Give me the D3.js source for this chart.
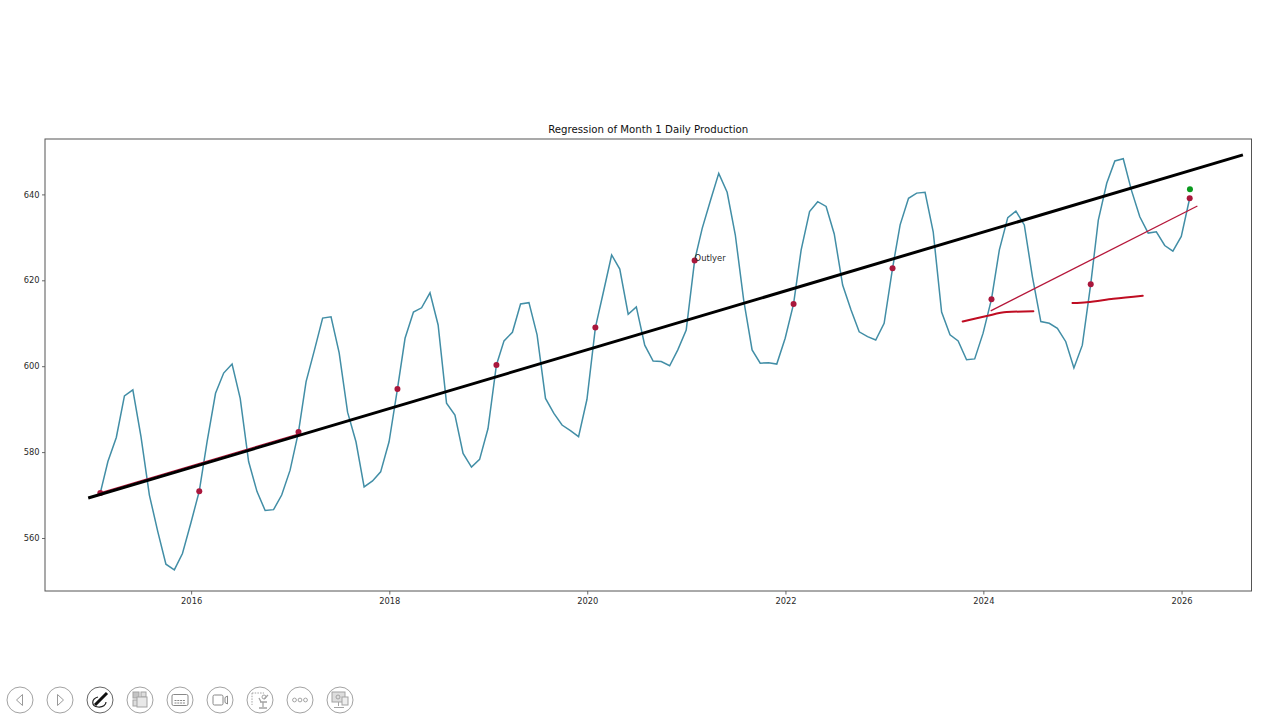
<!DOCTYPE html>
<html>
<head>
<meta charset="utf-8">
<script src="https://cdnjs.cloudflare.com/ajax/libs/d3/7.9.0/d3.min.js"></script>
<style>
  html, body { margin: 0; padding: 0; background: #fff; overflow: hidden; }
  svg { display: block; font-family: "DejaVu Sans", sans-serif; }
</style>
</head>
<body>
<svg id="chart" width="1280" height="720"></svg>
<script>
// Month-end daily production, one row per year, January 2015 to January 2026
const production2015 = [570.5, 577.8, 583.4, 593.1, 594.5, 583.6, 570.0, 561.5, 553.9, 552.6, 556.4, 563.5];
const production2016 = [570.9, 582.5, 593.7, 598.4, 600.5, 592.5, 577.8, 570.8, 566.4, 566.6, 570.0, 575.8];
const production2017 = [584.7, 596.4, 603.8, 611.2, 611.5, 603.1, 589.3, 582.4, 571.9, 573.3, 575.4, 582.4];
const production2018 = [594.7, 606.5, 612.6, 613.6, 617.1, 609.6, 591.4, 588.6, 579.7, 576.5, 578.3, 585.5];
const production2019 = [600.3, 605.9, 607.9, 614.5, 614.8, 607.3, 592.5, 589.0, 586.3, 585.0, 583.6, 592.3];
const production2020 = [609.0, 617.1, 625.9, 622.6, 612.1, 613.8, 604.9, 601.2, 601.1, 600.1, 603.8, 608.4];
const production2021 = [624.6, 632.1, 638.7, 644.9, 640.5, 630.6, 615.4, 603.8, 600.7, 600.8, 600.5, 606.5];
const production2022 = [614.5, 627.1, 636.0, 638.3, 637.2, 630.8, 618.9, 613.1, 608.0, 606.9, 606.1, 610.0];
const production2023 = [622.8, 632.9, 639.1, 640.3, 640.5, 631.3, 612.6, 607.3, 605.9, 601.5, 601.7, 607.7];
const production2024 = [615.6, 627.1, 634.6, 636.1, 632.9, 620.8, 610.4, 610.0, 608.8, 605.7, 599.6, 604.9];
const production2025 = [619.1, 634.0, 642.6, 647.8, 648.3, 641.0, 634.8, 631.0, 631.3, 628.1, 626.8, 630.2];
const production2026 = [639.1];

const firstYear = 2015;
const xTickYears = [2016, 2018, 2020, 2022, 2024, 2026];
const yTickValues = [560, 580, 600, 620, 640];

// Fitted trend and later additions, as [decimal year, production]
const regressionLine = [[2014.96, 569.3], [2026.62, 649.2]];
const earlyTrendInk = [[2015.08, 570.5], [2017.08, 584.2]];
const recentTrendInk = [[2024.074, 612.9], [2026.16, 637.3]];
const inkStrokeA = [[2023.791, 610.4], [2024.033, 611.7], [2024.235, 612.6], [2024.504, 612.8]];
const inkStrokeB = [[2024.898, 614.7], [2025.043, 614.9], [2025.311, 615.7], [2025.608, 616.4]];
const forecastPoint = [2026.085, 641.2];
const outlierYear = 2021;

const titleText = "Regression of Month 1 Daily Production";
const outlierText = "Outlyer";

const svg = d3.select("#chart");
const plot = { left: 45, right: 1251.5, top: 139, bottom: 591 };

const x = d3.scaleUtc()
  .domain([new Date(Date.UTC(2014, 6, 11)), new Date(Date.UTC(2026, 8, 16))])
  .range([plot.left, plot.right]);
const y = d3.scaleLinear().domain([547.66, 652.9]).range([plot.bottom, plot.top]);

const yearRows = [production2015, production2016, production2017, production2018,
  production2019, production2020, production2021, production2022, production2023,
  production2024, production2025, production2026];

// Each reading is dated at the last day of its month
const monthly = yearRows.flatMap((row, r) => row.map((value, m) => ({
  date: new Date(Date.UTC(firstYear + r, m + 1, 0)),
  month: m,
  year: firstYear + r,
  value
})));

const fromDecimalYear = t => {
  const whole = Math.floor(t);
  const start = Date.UTC(whole, 0, 1), end = Date.UTC(whole + 1, 0, 1);
  return new Date(start + (t - whole) * (end - start));
};
const inkLine = d3.line().x(d => x(fromDecimalYear(d[0]))).y(d => y(d[1]));
const inkCurve = d3.line().x(d => x(fromDecimalYear(d[0]))).y(d => y(d[1])).curve(d3.curveMonotoneX);

// Axes
const xAxis = d3.axisBottom(x)
  .tickValues(xTickYears.map(year => new Date(Date.UTC(year, 0, 1))))
  .tickFormat(d3.utcFormat("%Y")).tickSizeOuter(0).tickSize(3.5).tickPadding(3.5);
const yAxis = d3.axisLeft(y)
  .tickValues(yTickValues).tickFormat(d3.format("d")).tickSizeOuter(0).tickSize(3).tickPadding(2.5);

const styleAxis = g => {
  g.select(".domain").remove();
  g.selectAll("line").attr("stroke", "#444").attr("stroke-width", 0.8);
  g.selectAll("text").attr("fill", "#2a2a2a").attr("font-size", 8.3)
    .attr("font-family", '"DejaVu Sans", sans-serif');
};
svg.append("g").attr("transform", `translate(0,${plot.bottom})`).call(xAxis).call(styleAxis);
svg.append("g").attr("transform", `translate(${plot.left},0)`).call(yAxis).call(styleAxis);

// Monthly series
svg.append("path").datum(monthly)
  .attr("fill", "none").attr("stroke", "#428ea6").attr("stroke-width", 1.5)
  .attr("stroke-linejoin", "miter")
  .attr("d", d3.line().x(d => x(d.date)).y(d => y(d.value)));

// Thin pen line beneath the regression
svg.append("path").datum(earlyTrendInk)
  .attr("fill", "none").attr("stroke", "#b5173a").attr("stroke-width", 1.2)
  .attr("d", inkLine);

// January readings
const januaries = monthly.filter(d => d.month === 0);
svg.append("g").selectAll("circle").data(januaries).join("circle")
  .attr("cx", d => x(d.date)).attr("cy", d => y(d.value)).attr("r", 3)
  .attr("fill", "#a9173c");

// Regression line
svg.append("path").datum(regressionLine)
  .attr("fill", "none").attr("stroke", "#000").attr("stroke-width", 3)
  .attr("d", inkLine);

// Pen marks over the last two years
svg.append("path").datum(recentTrendInk)
  .attr("fill", "none").attr("stroke", "#b5173a").attr("stroke-width", 1.3)
  .attr("d", inkLine);
[inkStrokeA, inkStrokeB].forEach(stroke => {
  svg.append("path").datum(stroke)
    .attr("fill", "none").attr("stroke", "#bf0d22").attr("stroke-width", 2)
    .attr("stroke-linecap", "round").attr("d", inkCurve);
});

// Projected value for January 2026
svg.append("circle")
  .attr("cx", x(fromDecimalYear(forecastPoint[0]))).attr("cy", y(forecastPoint[1]))
  .attr("r", 3).attr("fill", "#0a9a1e");

// Outlier note sits on the January reading it names
const outlier = januaries.find(d => d.year === outlierYear);
svg.append("text")
  .attr("x", x(outlier.date)).attr("y", y(outlier.value) + 0.4)
  .attr("font-size", 8.4).attr("fill", "#2a2a2a").text(outlierText);

// Frame and title
svg.append("rect")
  .attr("x", plot.left).attr("y", plot.top)
  .attr("width", plot.right - plot.left).attr("height", plot.bottom - plot.top)
  .attr("fill", "none").attr("stroke", "#555").attr("stroke-width", 1);
svg.append("text")
  .attr("x", (plot.left + plot.right) / 2).attr("y", 133)
  .attr("text-anchor", "middle").attr("font-size", 10.2).attr("fill", "#111")
  .text(titleText);

// Slide show controls along the bottom edge
const controlCentres = [20, 60, 100, 140, 180, 220, 260, 300, 340];
const controlY = 700;
const controls = svg.append("g").attr("fill", "none").attr("stroke", "#a3a3a3").attr("stroke-width", 1);
const buttons = controls.selectAll("g").data(controlCentres).join("g")
  .attr("transform", d => `translate(${d},${controlY})`);
buttons.append("circle").attr("r", 13);

const draw = (i, fn) => fn(d3.select(buttons.nodes()[i]));
draw(0, g => g.append("path").attr("d", "M2.5,-5.5 L-3.5,0 L2.5,5.5 Z").attr("stroke", "#999"));
draw(1, g => g.append("path").attr("d", "M-2.5,-5.5 L3.5,0 L-2.5,5.5 Z").attr("stroke", "#999"));
draw(2, g => {
  g.select("circle").attr("stroke", "#666");
  g.append("path").attr("d", "M-2,-3 C-9,-1 -9,6 -2,7 C3,7.5 6,5 6,2")
    .attr("stroke", "#222").attr("stroke-width", 1.2);
  g.append("path").attr("d", "M-5,5 L7,-7").attr("stroke", "#111").attr("stroke-width", 3);
});
draw(3, g => {
  g.append("rect").attr("x", -7).attr("y", -8).attr("width", 6).attr("height", 6).attr("fill", "#c4c4c4");
  g.append("rect").attr("x", 1).attr("y", -8).attr("width", 5).attr("height", 5).attr("fill", "#ddd");
  g.append("rect").attr("x", -7).attr("y", 0).attr("width", 5).attr("height", 6).attr("fill", "#ddd");
  g.append("rect").attr("x", -3).attr("y", -3).attr("width", 10).attr("height", 10).attr("fill", "#e8e8e8");
});
draw(4, g => {
  g.append("rect").attr("x", -8).attr("y", -5.5).attr("width", 16).attr("height", 11).attr("rx", 1.5).attr("stroke", "#888");
  g.append("path").attr("d", "M-5.5,0.5 H5.5 M-5.5,3 H5.5").attr("stroke-dasharray", "2 0.8").attr("stroke", "#888");
});
draw(5, g => {
  g.append("rect").attr("x", -7).attr("y", -5).attr("width", 10).attr("height", 10).attr("rx", 1.5).attr("stroke", "#888");
  g.append("path").attr("d", "M5,-2.5 L7.5,-4 V4 L5,2.5 Z").attr("stroke", "#888");
});
draw(6, g => {
  g.append("path").attr("d", "M-8,-7 H4 M-8,-7 V5").attr("stroke-dasharray", "1.5 1.2");
  g.append("path").attr("d", "M0,2 H7 M3,2 V7 M-1,8 H7 M1,2 L-1,-2 M4,-1 L8,-5").attr("stroke-width", 1.3);
  g.append("circle").attr("cx", 4).attr("cy", -3).attr("r", 2);
});
draw(7, g => {
  g.selectAll("circle.dot").data([-5.5, 0, 5.5]).join("circle")
    .attr("class", "dot").attr("cx", d => d).attr("r", 1.9);
});
draw(8, g => {
  g.append("rect").attr("x", -8).attr("y", -8).attr("width", 13).attr("height", 10).attr("fill", "#ddd");
  g.append("path").attr("d", "M-1.5,2 V6 M-6,7.5 H4");
  g.append("rect").attr("x", 2).attr("y", -3).attr("width", 6).attr("height", 8).attr("fill", "#eee");
  g.append("circle").attr("cx", -2).attr("cy", -3).attr("r", 2);
});
</script>
</body>
</html>
